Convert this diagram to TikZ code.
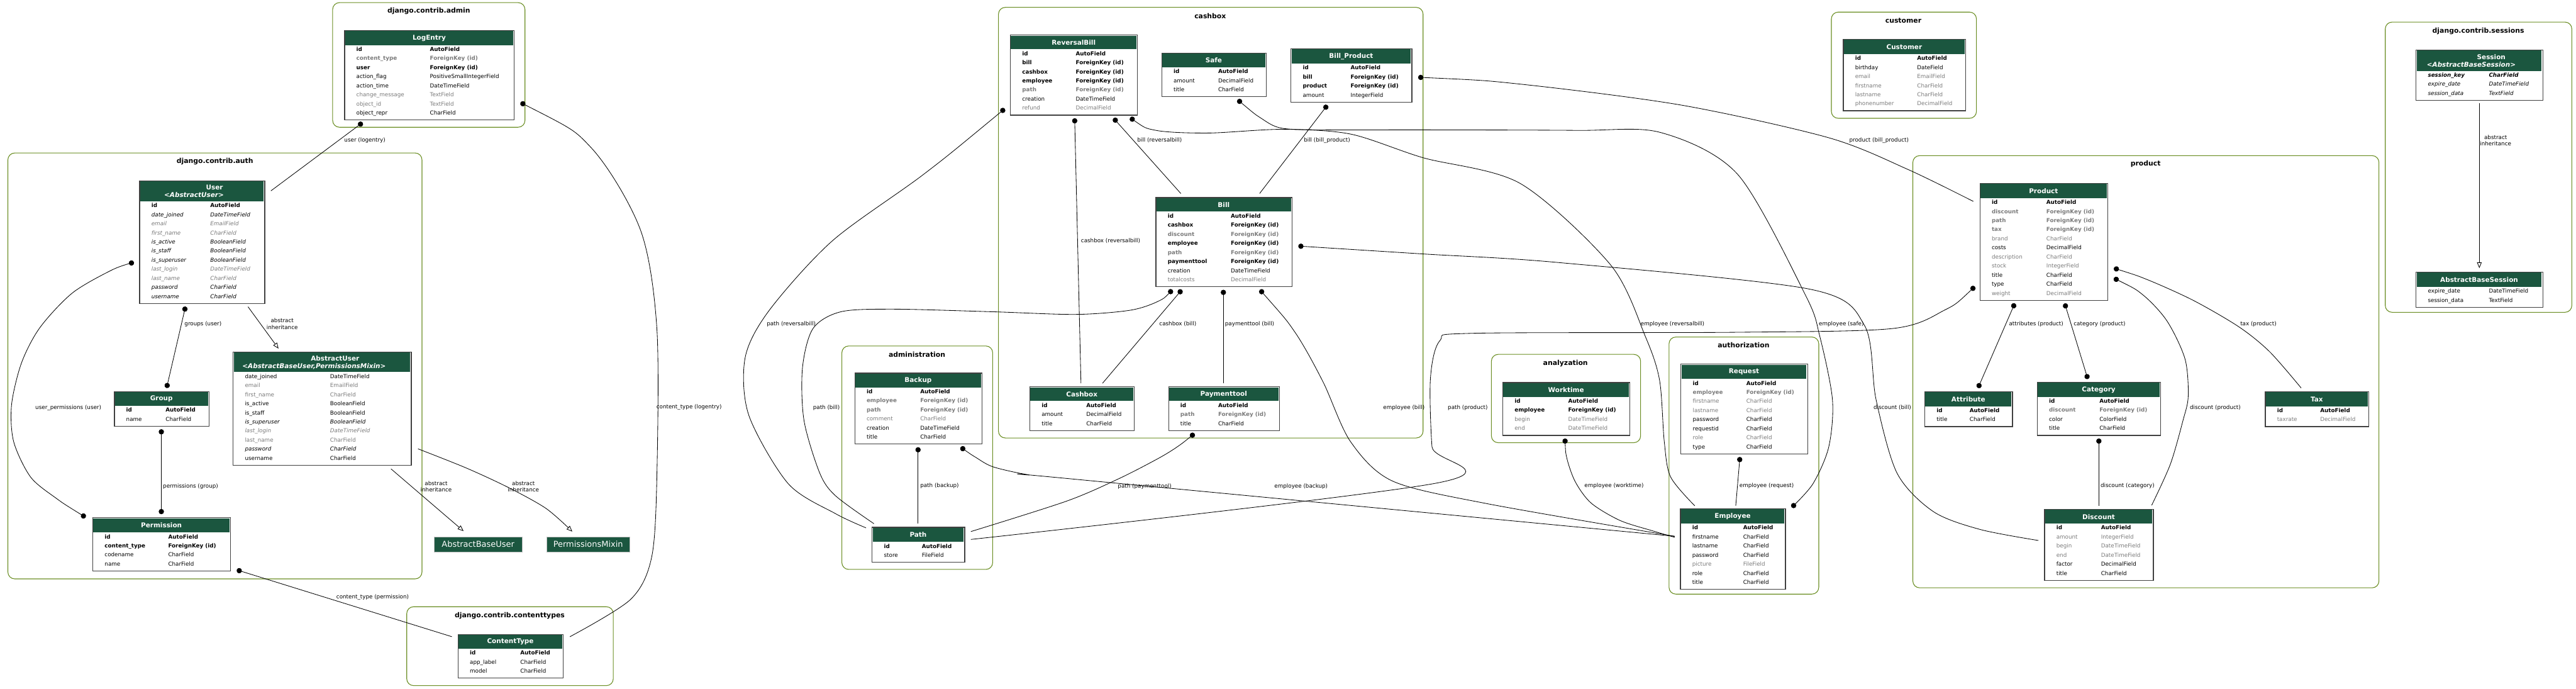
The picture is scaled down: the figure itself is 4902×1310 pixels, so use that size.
\documentclass[tikz,border=0pt]{standalone}
\usepackage{fontspec}
\setmainfont{DejaVu Sans}
\usetikzlibrary{arrows.meta}

\definecolor{headgreen}{HTML}{1B563F}
\definecolor{fieldgray}{HTML}{7B7B7B}
\definecolor{clustergreen}{HTML}{6B8E23}
\newcommand{\fieldfont}{\fontsize{10.5}{12}\selectfont}

% one model table: name, left, top, width, type column, header height, title, rows
\newcommand{\model}[8]{%
  \foreach \rs/\rn/\rt [count=\i] in {#8} {
    \node[\rs, anchor=base west] (#1-n\i) at (#2+23, #3+#6+10.5+\i*17.3-17.3) {\rn};
    \node[\rs, anchor=base west] (#1-t\i) at (#2+#5, #3+#6+10.5+\i*17.3-17.3) {\rt};
    \xdef\nrows{\i}
  }
  \pgfmathsetmacro\mheight{#6+2.2+\nrows*17.3}
  \node[modelhead, anchor=north west, minimum width=#4pt-3pt, minimum height=#6pt-3pt] (#1-head) at (#2+1.5, #3+1.5) {#7};
  \node[modelframe, anchor=north west, minimum width=#4pt, minimum height=\mheight pt] (#1) at (#2, #3) {};
}

\tikzset{
  cluster/.style={draw=clustergreen, line width=1.3pt, rounded corners=13pt},
  clusterlabel/.style={font=\fontsize{13}{15}\selectfont\bfseries, inner sep=0},
  modelframe/.style={draw=black!75, line width=1.5pt, inner sep=0},
  modelhead/.style={fill=headgreen, text=white, inner sep=0, align=center,
    font=\fontsize{12.5}{14.5}\selectfont\bfseries},
  rown/.style={font=\fieldfont, inner sep=0},
  rowb/.style={font=\fieldfont\bfseries, inner sep=0},
  rowg/.style={rown, text=fieldgray},
  rowgb/.style={rowb, text=fieldgray},
  rowi/.style={font=\fieldfont\itshape, inner sep=0},
  rowig/.style={rowi, text=fieldgray},
  rowib/.style={font=\fieldfont\bfseries\itshape, inner sep=0},
  basebox/.style={fill=headgreen, draw=black!25, text=white, inner sep=0,
    font=\fontsize{15.5}{18}\selectfont},
  elabel/.style={font=\fieldfont, inner sep=0},
  elabel2/.style={font=\fieldfont, inner sep=0, align=center},
  rel/.style={line width=1pt},
  fkey/.style={rel, {Circle[length=10pt]}-},
  mtm/.style={rel, {Circle[length=10pt]}-{Circle[length=10pt]}},
  inheritance/.style={rel, -{Triangle[open, length=11pt, width=9pt]}},
}

\begin{document}
\begin{tikzpicture}[x=1pt, y=-1pt]
\fill[white] (0,0) rectangle (4902,1310);
\useasboundingbox (0,0) rectangle (4902,1310);

% clusters
\draw[cluster] (633,5) rectangle (999,242);
\node[clusterlabel] (c-admin) at (816,21) {django.contrib.admin};
\draw[cluster] (15,291) rectangle (803,1101);
\node[clusterlabel] (c-auth) at (409,307) {django.contrib.auth};
\draw[cluster] (774,1154) rectangle (1167,1304);
\node[clusterlabel] (c-contenttypes) at (970,1171) {django.contrib.contenttypes};
\draw[cluster] (1900,14) rectangle (2708,833);
\node[clusterlabel] (c-cashbox) at (2303,31) {cashbox};
\draw[cluster] (1602,658) rectangle (1889,1083);
\node[clusterlabel] (c-administration) at (1745,674) {administration};
\draw[cluster] (2838,674) rectangle (3122,842);
\node[clusterlabel] (c-analyzation) at (2979,691) {analyzation};
\draw[cluster] (3176,641) rectangle (3461,1130);
\node[clusterlabel] (c-authorization) at (3318,656) {authorization};
\draw[cluster] (3485,23) rectangle (3761,225);
\node[clusterlabel] (c-customer) at (3622,39) {customer};
\draw[cluster] (3640,296) rectangle (4527,1118);
\node[clusterlabel] (c-product) at (4083,312) {product};
\draw[cluster] (4539,42) rectangle (4894,594);
\node[clusterlabel] (c-sessions) at (4716,59) {django.contrib.sessions};

% django.contrib.admin
\model{logentry}{655}{57}{323}{163}{30}{LogEntry}{rowb/id/AutoField, rowgb/content\_type/ForeignKey (id),
  rowb/user/ForeignKey (id), rown/action\_flag/PositiveSmallIntegerField, rown/action\_time/DateTimeField,
  rowg/change\_message/TextField, rowg/object\_id/TextField, rown/object\_repr/CharField}

% django.contrib.auth
\model{user}{265}{343}{238}{135}{41}{\hspace*{48pt}User\\\textit{<AbstractUser>}\hspace*{30pt}}{rowb/id/AutoField,
  rowi/date\_joined/DateTimeField, rowig/email/EmailField, rowig/first\_name/CharField,
  rowi/is\_active/BooleanField, rowi/is\_staff/BooleanField, rowi/is\_superuser/BooleanField,
  rowig/last\_login/DateTimeField, rowig/last\_name/CharField, rowi/password/CharField, rowi/username/CharField}
\model{abstractuser}{443}{669}{339}{185}{40}{\hspace*{50pt}AbstractUser\\\textit{<AbstractBaseUser,PermissionsMixin>}\hspace*{30pt}}{rown/date\_joined/DateTimeField,
  rowg/email/EmailField, rowg/first\_name/CharField, rown/is\_active/BooleanField, rown/is\_staff/BooleanField,
  rowi/is\_superuser/BooleanField, rowig/last\_login/DateTimeField, rowg/last\_name/CharField,
  rowi/password/CharField, rown/username/CharField}
\model{group}{217}{744}{180}{98}{29}{Group}{rowb/id/AutoField, rown/name/CharField}
\model{permission}{176}{984}{262}{144}{30}{Permission}{rowb/id/AutoField, rowb/content\_type/ForeignKey (id),
  rown/codename/CharField, rown/name/CharField}
\node[basebox, anchor=north west, minimum width=167pt, minimum height=28pt] (absuser) at (826,1021) {AbstractBaseUser};
\node[basebox, anchor=north west, minimum width=158pt, minimum height=28pt] (permmixin) at (1040,1021) {PermissionsMixin};

% django.contrib.contenttypes
\model{contenttype}{871}{1206}{200}{119}{29}{ContentType}{rowb/id/AutoField, rown/app\_label/CharField, rown/model/CharField}

% cashbox
\model{reversalbill}{1922}{66}{242}{125}{29}{ReversalBill}{rowb/id/AutoField, rowb/bill/ForeignKey (id),
  rowb/cashbox/ForeignKey (id), rowb/employee/ForeignKey (id), rowgb/path/ForeignKey (id),
  rown/creation/DateTimeField, rowg/refund/DecimalField}
\model{safe}{2210}{100}{199}{108}{29}{Safe}{rowb/id/AutoField, rown/amount/DecimalField, rown/title/CharField}
\model{billproduct}{2456}{92}{230}{114}{30}{Bill\_Product}{rowb/id/AutoField, rowb/bill/ForeignKey (id),
  rowb/product/ForeignKey (id), rown/amount/IntegerField}
\model{bill}{2199}{375}{259}{143}{29}{Bill}{rowb/id/AutoField, rowb/cashbox/ForeignKey (id),
  rowgb/discount/ForeignKey (id), rowb/employee/ForeignKey (id), rowgb/path/ForeignKey (id),
  rowb/paymenttool/ForeignKey (id), rown/creation/DateTimeField, rowg/totalcosts/DecimalField}
\model{cashboxm}{1959}{735}{199}{108}{29}{Cashbox}{rowb/id/AutoField, rown/amount/DecimalField, rown/title/CharField}
\model{paymenttool}{2223}{735}{211}{95}{29}{Paymenttool}{rowb/id/AutoField, rowgb/path/ForeignKey (id), rown/title/CharField}

% administration
\model{backup}{1626}{709}{242}{125}{29}{Backup}{rowb/id/AutoField, rowgb/employee/ForeignKey (id),
  rowgb/path/ForeignKey (id), rowg/comment/CharField, rown/creation/DateTimeField, rown/title/CharField}
\model{path}{1659}{1002}{176}{95}{30}{Path}{rowb/id/AutoField, rown/store/FileField}

% analyzation, authorization
\model{worktime}{2859}{727}{242}{125}{29}{Worktime}{rowb/id/AutoField, rowb/employee/ForeignKey (id),
  rowg/begin/DateTimeField, rowg/end/DateTimeField}
\model{request}{3198}{692}{241}{125}{30}{Request}{rowb/id/AutoField, rowgb/employee/ForeignKey (id),
  rowg/firstname/CharField, rowg/lastname/CharField, rown/password/CharField, rown/requestid/CharField,
  rowg/role/CharField, rown/type/CharField}
\model{employee}{3197}{967}{200}{120}{30}{Employee}{rowb/id/AutoField, rown/firstname/CharField,
  rown/lastname/CharField, rown/password/CharField, rowg/picture/FileField, rown/role/CharField, rown/title/CharField}

% customer
\model{customer}{3507}{74}{233}{141}{30}{Customer}{rowb/id/AutoField, rown/birthday/DateField,
  rowg/email/EmailField, rowg/firstname/CharField, rowg/lastname/CharField, rowg/phonenumber/DecimalField}

% product
\model{product}{3767}{348}{243}{127}{30}{Product}{rowb/id/AutoField, rowgb/discount/ForeignKey (id),
  rowgb/path/ForeignKey (id), rowgb/tax/ForeignKey (id), rowg/brand/CharField, rown/costs/DecimalField,
  rowg/description/CharField, rowg/stock/IntegerField, rown/title/CharField, rown/type/CharField,
  rowg/weight/DecimalField}
\model{attribute}{3662}{744}{167}{86}{30}{Attribute}{rowb/id/AutoField, rown/title/CharField}
\model{category}{3876}{726}{235}{119}{30}{Category}{rowb/id/AutoField, rowgb/discount/ForeignKey (id),
  rown/color/ColorField, rown/title/CharField}
\model{tax}{4310}{744}{197}{105}{30}{Tax}{rowb/id/AutoField, rowg/taxrate/DecimalField}
\model{discount}{3890}{968}{207}{108}{29}{Discount}{rowb/id/AutoField, rowg/amount/IntegerField,
  rowg/begin/DateTimeField, rowg/end/DateTimeField, rown/factor/DecimalField, rown/title/CharField}

% django.contrib.sessions
\model{session}{4597}{94}{241}{139}{42}{\hspace*{46pt}Session\\\textit{<AbstractBaseSession>}\hspace*{30pt}}{rowib/session\_key/CharField,
  rowi/expire\_date/DateTimeField, rowi/session\_data/TextField}
\model{absession}{4597}{517}{241}{139}{30}{AbstractBaseSession}{rown/expire\_date/DateTimeField, rown/session\_data/TextField}

% relations of auth and admin
\draw[fkey] ([xshift=35pt,yshift=-4pt]logentry.south west) -- ([xshift=11pt,yshift=-20pt]user.north east);
\draw[fkey] plot[smooth] coordinates {([xshift=11pt,yshift=-138pt]logentry.north east) (1125,281) (1219,438)
  (1250,625) (1250,906) (1240,1060) (1200,1140) ([xshift=12pt,yshift=-5pt]contenttype.north east)};
\draw[mtm] ([xshift=88pt,yshift=-5pt]user.south west) -- ([xshift=100pt,yshift=6pt]group.north west);
\draw[inheritance] ([xshift=207pt,yshift=-5.5pt]user.south west) -- ([xshift=87pt,yshift=6pt]abstractuser.north west);
\draw[mtm] plot[smooth] coordinates {([xshift=-13pt]permission.north west) (106,947) (58,907) (26,840)
  (22,770) (41,690) (76,623) (138,557) (214,513) ([xshift=-10pt,yshift=-156pt]user.north west)};
\draw[mtm] ([xshift=90pt,yshift=-5pt]group.south west) -- ([xshift=131pt,yshift=6pt]permission.north west);
\draw[inheritance] ([xshift=301pt,yshift=-6pt]abstractuser.south west) -- ([xshift=56pt,yshift=11pt]absuser.north west);
\draw[inheritance] plot[smooth] coordinates {([xshift=12pt,yshift=32pt]abstractuser.south east) (887,890)
  (967,927) (1039,967) ([xshift=49pt,yshift=10pt]permmixin.north west)};
\draw[fkey] ([xshift=11pt,yshift=3pt]permission.south east) -- ([xshift=-11pt,yshift=-5pt]contenttype.north west);

% relations of cashbox
\draw[fkey] ([xshift=197pt,yshift=-5pt]reversalbill.south west) -- ([xshift=48pt,yshift=7pt]bill.north west);
\draw[fkey] ([xshift=70pt,yshift=-5pt]billproduct.south west) -- ([xshift=198pt,yshift=7pt]bill.north west);
\draw[fkey] ([xshift=123pt,yshift=-5pt]reversalbill.south west) -- ([xshift=98pt,yshift=6pt]cashboxm.north west);
\draw[fkey] ([xshift=50pt,yshift=-5pt]bill.south west) -- ([xshift=139pt,yshift=6pt]cashboxm.north west);
\draw[fkey] ([xshift=129pt,yshift=-5pt]bill.south west) -- ([xshift=105pt,yshift=6pt]paymenttool.north west);

% relations to path
\draw[fkey] plot[smooth] coordinates {([xshift=32pt,yshift=-5pt]bill.south west) (2204,573) (2151,590)
  (2047,598) (1890,593) (1700,588) (1600,593) (1547,625) (1527,700) (1530,800) (1560,900) (1590,943)
  ([xshift=4pt,yshift=6pt]path.north west)};
\draw[fkey] plot[smooth] coordinates {([xshift=-10pt,yshift=13pt]reversalbill.south west) (1757,332)
  (1584,458) (1464,590) (1418,680) (1425,790) (1500,920) (1590,977) ([xshift=-11pt,yshift=-2pt]path.north west)};
\draw[fkey] plot[smooth] coordinates {([xshift=50pt,yshift=-5pt]paymenttool.south west) (2240,850)
  (2204,872) (2130,910) (2030,953) ([xshift=11pt,yshift=-9pt]path.north east)};
\draw[fkey] plot[smooth] coordinates {([xshift=-9pt,yshift=27pt]product.south west) (3700,590) (3600,625)
  (3300,632) (2800,634) (2740,648) (2722,720) (2725,850) (2738,918) ([xshift=11pt,yshift=-24pt]path.north east)};
\draw[fkey] ([xshift=121pt,yshift=-5pt]backup.south west) -- ([xshift=88pt,yshift=6pt]path.north west);

% relations to employee
\draw[fkey] plot[smooth] coordinates {([xshift=202pt,yshift=-5pt]backup.south west) (1857,870) (1890,888)
  (1957,903) (2030,910) ([xshift=-10pt,yshift=-53pt]employee.north west)};
\draw[fkey] plot[smooth] coordinates {([xshift=-62pt,yshift=-5pt]bill.south east) (2465,633) (2518,727)
  (2570,840) (2650,915) (2830,958) ([xshift=-10pt,yshift=-53pt]employee.north west)};
\draw[fkey] plot[smooth] coordinates {([xshift=119pt,yshift=-5pt]worktime.south west) (2982,873) (2998,917)
  (3028,957) (3083,990) (3146,1010) ([xshift=-10pt,yshift=-55pt]employee.north west)};
\draw[fkey] ([xshift=113pt,yshift=-5pt]request.south west) -- ([xshift=106pt,yshift=5pt]employee.north west);
\draw[fkey] plot[smooth] coordinates {([xshift=-15pt,yshift=-4pt]reversalbill.south east) (2200,248)
  (2300,253) (2440,246) (2570,255) (2708,300) (2893,349) (3065,504) (3131,640) (3158,723) (3167,840)
  (3179,907) ([xshift=28pt,yshift=5pt]employee.north west)};
\draw[mtm] plot[smooth] coordinates {([xshift=145pt,yshift=-5pt]safe.south west) (2400,225) (2440,244)
  (2530,247) (2708,247) (3000,248) (3160,252) (3307,332) (3436,562) (3463,640) (3487,760) (3480,850)
  (3450,920) ([xshift=11pt,yshift=2pt]employee.north east)};

% relations of product
\draw[fkey] plot[smooth] coordinates {([xshift=11pt,yshift=-55pt]billproduct.north east) (2893,160)
  (3200,200) (3480,262) (3630,322) ([xshift=-12pt,yshift=-35pt]product.north west)};
\draw[fkey] plot[smooth] coordinates {([xshift=11pt,yshift=-93pt]bill.north east) (2708,483) (2962,499)
  (3444,550) (3548,619) (3570,760) (3610,900) (3679,973) (3768,1007) ([xshift=-11pt,yshift=-60pt]discount.north west)};
\draw[mtm] ([xshift=67pt,yshift=-5pt]product.south west) -- ([xshift=102pt,yshift=6pt]attribute.north west);
\draw[mtm] ([xshift=162pt,yshift=-5pt]product.south west) -- ([xshift=97pt,yshift=5pt]category.north west);
\draw[fkey] plot[smooth] coordinates {([xshift=11pt,yshift=62pt]product.south east) (4089,533) (4175,572)
  (4261,622) (4319,669) ([xshift=69pt,yshift=6pt]tax.north west)};
\draw[fkey] plot[smooth] coordinates {([xshift=11pt,yshift=43pt]product.south east) (4078,561) (4124,611)
  (4158,683) (4164,754) (4154,800) (4130,883) ([xshift=-4pt,yshift=7pt]discount.north east)};
\draw[fkey] ([xshift=118pt,yshift=-5pt]category.south west) -- ([xshift=104pt,yshift=6pt]discount.north west);
\draw[inheritance] ([xshift=121pt,yshift=-5pt]session.south west) -- ([xshift=121pt,yshift=7pt]absession.north west);

% edge labels
\node[elabel, anchor=west] (l-user-logentry) at (655,267) {user (logentry)};
\node[elabel, anchor=west] (l-ct-logentry) at (1249,775) {content\_type (logentry)};
\node[elabel, anchor=west] (l-groups) at (351,616) {groups (user)};
\node[elabel2] (l-inh-user) at (537,616) {abstract\\inheritance};
\node[elabel] (l-userperm) at (130,776) {user\_permissions (user)};
\node[elabel, anchor=west] (l-perm-group) at (310,925) {permissions (group)};
\node[elabel2] (l-inh-base) at (830,925) {abstract\\inheritance};
\node[elabel2] (l-inh-mixin) at (996,925) {abstract\\inheritance};
\node[elabel, anchor=west] (l-ct-perm) at (640,1136) {content\_type (permission)};
\node[elabel, anchor=west] (l-bill-rb) at (2164,267) {bill (reversalbill)};
\node[elabel, anchor=west] (l-bill-bp) at (2481,267) {bill (bill\_product)};
\node[elabel, anchor=west] (l-cb-rb) at (2057,458) {cashbox (reversalbill)};
\node[elabel, anchor=west] (l-cb-bill) at (2206,616) {cashbox (bill)};
\node[elabel, anchor=west] (l-pt-bill) at (2331,616) {paymenttool (bill)};
\node[elabel, anchor=west] (l-path-rb) at (1459,616) {path (reversalbill)};
\node[elabel, anchor=west] (l-path-bill) at (1547,775) {path (bill)};
\node[elabel, anchor=west] (l-path-backup) at (1751,924) {path (backup)};
\node[elabel, anchor=west] (l-path-pt) at (2127,925) {path (paymenttool)};
\node[elabel, anchor=west] (l-emp-backup) at (2425,925) {employee (backup)};
\node[elabel, anchor=west] (l-emp-bill) at (2632,775) {employee (bill)};
\node[elabel, anchor=west] (l-path-product) at (2755,775) {path (product)};
\node[elabel, anchor=west] (l-emp-rb) at (3122,616) {employee (reversalbill)};
\node[elabel, anchor=west] (l-emp-safe) at (3461,616) {employee (safe)};
\node[elabel, anchor=west] (l-emp-wt) at (3015,924) {employee (worktime)};
\node[elabel, anchor=west] (l-emp-req) at (3310,924) {employee (request)};
\node[elabel, anchor=west] (l-prod-bp) at (3519,267) {product (bill\_product)};
\node[elabel, anchor=west] (l-disc-bill) at (3565,775) {discount (bill)};
\node[elabel, anchor=west] (l-attr) at (3823,616) {attributes (product)};
\node[elabel, anchor=west] (l-cat) at (3946,616) {category (product)};
\node[elabel, anchor=west] (l-tax) at (4263,616) {tax (product)};
\node[elabel, anchor=west] (l-disc-prod) at (4167,775) {discount (product)};
\node[elabel, anchor=west] (l-disc-cat) at (3997,924) {discount (category)};
\node[elabel2] (l-inh-session) at (4749,267) {abstract\\inheritance};
\end{tikzpicture}
\end{document}
